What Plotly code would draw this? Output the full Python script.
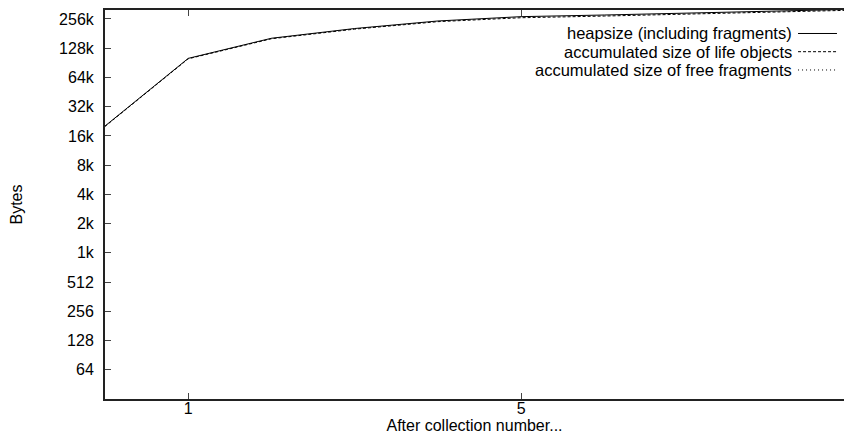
import plotly.graph_objects as go

# Heap statistics after each garbage collection
collections = [0, 1, 2, 3, 4, 5, 6, 7, 8, 9]
heapsize = [20700, 103000, 166000, 209000, 250000, 277000, 288000, 301000, 316000, 330000]
life_objects = [20500, 102000, 164000, 206000, 246000, 270000, 281000, 294000, 309000, 323000]
free_fragments = [0, 0, 0, 0, 0, 0, 0, 0, 0, 0]

ytick_vals = [64, 128, 256, 512, 1024, 2048, 4096, 8192, 16384, 32768, 65536, 131072, 262144]
ytick_text = ["64", "128", "256", "512", "1k", "2k", "4k", "8k", "16k", "32k", "64k", "128k", "256k"]
xtick_vals = [1, 5]

series = [
    ("heapsize (including fragments)", heapsize, "solid"),
    ("accumulated size of life objects", life_objects, "3px,2px"),
    ("accumulated size of free fragments", free_fragments, "1px,3px"),
]

fig = go.Figure()
for name, vals, dash in series:
    fig.add_trace(go.Scatter(
        x=collections, y=vals, mode="lines", name=name,
        line=dict(color="black", width=1, dash=dash),
        showlegend=False,
    ))

FONT = "Liberation Sans, Arial, sans-serif"
FS = 16

# gnuplot-style key: right-aligned labels with line samples on the right
key_rows = [0.9396, 0.8928, 0.8458]
for (name, _, dash), yk in zip(series, key_rows):
    fig.add_annotation(
        xref="paper", yref="paper", x=0.9323, y=yk, text=name,
        showarrow=False, xanchor="right", yanchor="middle",
        font=dict(family=FONT, size=16.5, color="black"),
    )
    fig.add_shape(
        type="line", xref="paper", yref="paper",
        x0=0.9378, x1=0.9905, y0=yk, y1=yk,
        line=dict(color="black", width=1, dash=dash),
    )

fig.update_layout(
    width=844, height=436,
    margin=dict(l=105, r=0, t=10, b=37),
    paper_bgcolor="white", plot_bgcolor="white",
    font=dict(family=FONT, size=FS, color="black"),
    showlegend=False,
)
fig.update_xaxes(
    range=[0, 8.88], tickvals=xtick_vals, ticktext=[str(v) for v in xtick_vals],
    ticks="inside", ticklen=6, tickwidth=1, tickcolor="#444",
    showline=True, linecolor="#222", linewidth=2, mirror="ticks",
    showgrid=False, zeroline=False, ticklabelstandoff=-6,
    title=dict(text="After collection number...", standoff=0, font=dict(size=FS)),
    tickfont=dict(size=FS),
)
fig.update_yaxes(
    type="log", range=[1.505, 5.511],
    tickvals=ytick_vals, ticktext=ytick_text,
    ticks="inside", ticklen=6, tickwidth=1, tickcolor="#444",
    showline=True, linecolor="#222", linewidth=2, mirror=False,
    showgrid=False, zeroline=False, ticklabelstandoff=6,
    title=dict(text="Bytes", standoff=32, font=dict(size=FS)),
    tickfont=dict(size=FS),
)

fig.write_html("out.html")
